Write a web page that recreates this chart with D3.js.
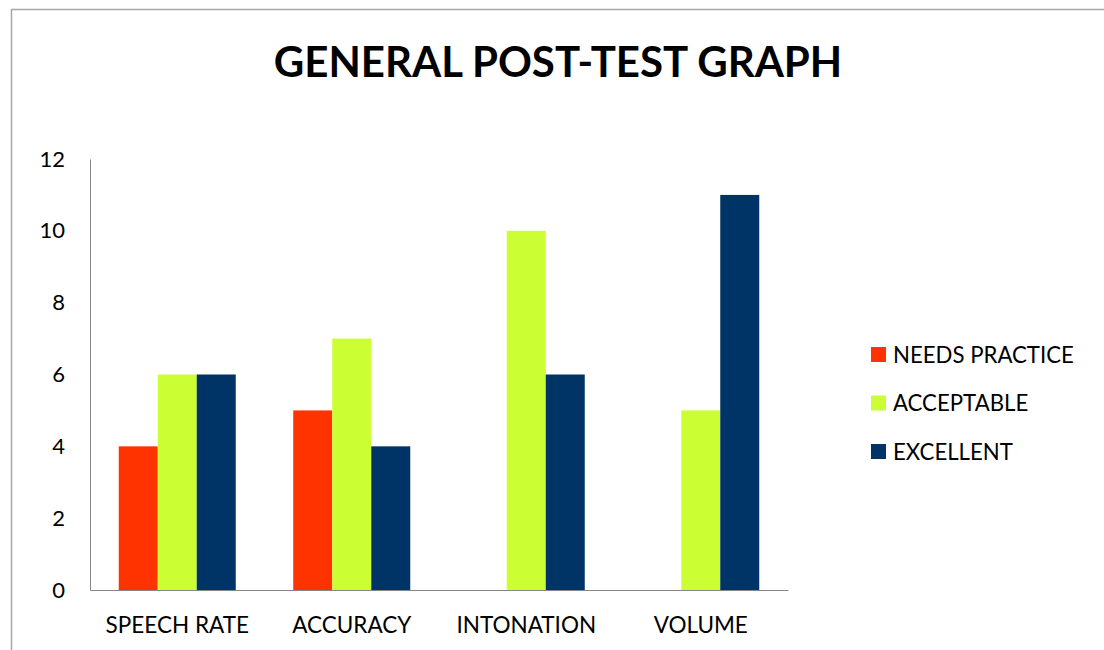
<!DOCTYPE html>
<html>
<head>
<meta charset="utf-8">
<script src="https://cdn.jsdelivr.net/npm/d3@7"></script>
<style>
  html, body { margin: 0; padding: 0; background: #fff; }
  svg { display: block; }
  text { font-family: Lato, "Open Sans", sans-serif; fill: #000; }
</style>
</head>
<body>
<svg id="chart" width="1104" height="650"></svg>
<script>
const title = "GENERAL POST-TEST GRAPH";
const categories = ["SPEECH RATE", "ACCURACY", "INTONATION", "VOLUME"];
const seriesNames = ["NEEDS PRACTICE", "ACCEPTABLE", "EXCELLENT"];
const needsPractice = [4, 5, 0, 0];
const acceptable = [6, 7, 10, 5];
const excellent = [6, 4, 6, 11];
const seriesColors = ["#FF3300", "#CCFF33", "#003366"];
const yTicks = [0, 2, 4, 6, 8, 10, 12];

const seriesValues = [needsPractice, acceptable, excellent];

const svg = d3.select("#chart");
const W = 1104, H = 650;
const plot = { left: 90, right: 788, top: 159, bottom: 590 };

// outer border
svg.append("rect")
  .attr("x", 11.5).attr("y", 9.5)
  .attr("width", W + 20).attr("height", H + 20)
  .attr("fill", "none").attr("stroke", "#a6a6a6").attr("stroke-width", 1.5);

// title
svg.append("text")
  .attr("x", 558).attr("y", 77)
  .attr("text-anchor", "middle")
  .attr("font-size", 42).attr("font-weight", 700)
  .text(title);

const x0 = d3.scaleBand().domain(categories).range([plot.left, plot.right]).paddingInner(0).paddingOuter(0);
const x1 = d3.scaleBand().domain(seriesNames).range([0, x0.bandwidth()]).paddingInner(0).paddingOuter(0.737);
const y = d3.scaleLinear().domain([0, 12]).range([plot.bottom, plot.top]);

// bars
const groups = svg.append("g").selectAll("g")
  .data(categories)
  .join("g")
  .attr("transform", d => `translate(${x0(d)},0)`);

groups.selectAll("rect")
  .data((c, ci) => seriesNames.map((s, si) => ({ s, si, v: seriesValues[si][ci] })))
  .join("rect")
  .attr("x", d => x1(d.s))
  .attr("width", x1.bandwidth())
  .attr("y", d => y(d.v))
  .attr("height", d => y(0) - y(d.v))
  .attr("fill", d => seriesColors[d.si]);

// y axis
const yAxis = d3.axisLeft(y).tickValues(yTicks).tickSize(0).tickPadding(25).tickFormat(d3.format("d"));
const gy = svg.append("g").attr("transform", `translate(${plot.left},0)`).call(yAxis);
gy.select(".domain").attr("stroke", "#868686").attr("stroke-width", 1);
gy.selectAll("text").attr("font-size", 22).attr("font-family", "Lato, sans-serif").attr("fill", "#000");

// x axis
const xAxis = d3.axisBottom(x0).tickSize(0).tickPadding(27);
const gx = svg.append("g").attr("transform", `translate(0,${plot.bottom})`).call(xAxis);
gx.select(".domain").attr("stroke", "#868686").attr("stroke-width", 1);
gx.selectAll("text").attr("font-size", 22.5).attr("font-family", "Lato, sans-serif").attr("fill", "#000").attr("dy", "0.71em");

// legend
const legend = svg.append("g").attr("transform", "translate(871,347)");
const li = legend.selectAll("g").data(seriesNames).join("g")
  .attr("transform", (d, i) => `translate(0,${i * 48.5})`);
li.append("rect").attr("width", 15).attr("height", 15).attr("fill", (d, i) => seriesColors[i]);
li.append("text").attr("x", 22).attr("y", 15.5).attr("font-size", 22.2).text(d => d);
</script>
</body>
</html>
